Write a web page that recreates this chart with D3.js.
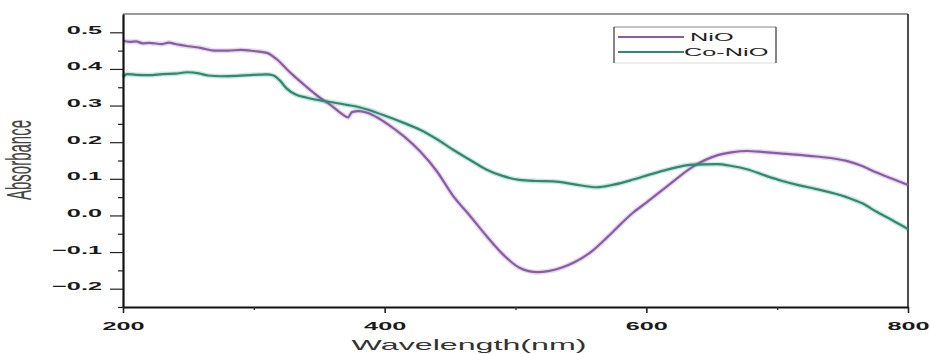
<!DOCTYPE html>
<html>
<head>
<meta charset="utf-8">
<script src="https://cdn.jsdelivr.net/npm/d3@7"></script>
<style>
  html, body { margin: 0; padding: 0; background: #ffffff; }
  svg { display: block; }
  text { font-family: "Liberation Sans", Arial, sans-serif; }
</style>
</head>
<body>
<svg id="chart" width="930" height="354"></svg>
<script>
// ---- data ----
const seriesNames = ["NiO", "Co-NiO"];

const nioWavelength = [200,205,210,215,220,230,235,240,250,260,270,280,290,300,310,318,325,330,340,350,360,367,372,375,380,386,395,402,415,427,440,452,465,478,490,503,510,517,525,535,545,559,570,580,590,600,616,636,654,665,677,690,704,730,753,765,776,788,800];
const nioAbsorbance = [0.477,0.474,0.475,0.470,0.471,0.468,0.472,0.468,0.462,0.457,0.450,0.450,0.452,0.449,0.444,0.425,0.400,0.383,0.352,0.323,0.298,0.278,0.268,0.282,0.285,0.281,0.266,0.250,0.215,0.175,0.120,0.055,0.000,-0.057,-0.105,-0.143,-0.152,-0.155,-0.152,-0.143,-0.128,-0.096,-0.060,-0.025,0.008,0.035,0.080,0.134,0.164,0.172,0.176,0.173,0.169,0.161,0.149,0.135,0.117,0.100,0.083];

const coWavelength = [200,203,210,220,230,240,249,258,265,275,287,300,310,315,320,325,332,340,351,360,371,380,386,402,415,427,440,452,465,478,490,503,515,529,545,562,575,590,603,616,636,654,665,677,690,704,717,730,753,765,776,788,800];
const coAbsorbance = [0.378,0.386,0.384,0.383,0.386,0.387,0.391,0.388,0.382,0.380,0.381,0.384,0.385,0.382,0.368,0.347,0.330,0.322,0.314,0.309,0.302,0.296,0.290,0.270,0.252,0.234,0.208,0.180,0.152,0.125,0.108,0.097,0.094,0.093,0.085,0.077,0.084,0.098,0.112,0.125,0.139,0.140,0.135,0.126,0.110,0.094,0.082,0.072,0.050,0.033,0.010,-0.013,-0.037];

const xMajorTicks = [200, 400, 600, 800];
const xMinorTicks = [300, 500, 700];
const yMajorTicks = [-0.2, -0.1, 0.0, 0.1, 0.2, 0.3, 0.4, 0.5];
const yMinorTicks = [-0.25, -0.15, -0.05, 0.05, 0.15, 0.25, 0.35, 0.45];

const xTitle = "Wavelength(nm)";
const yTitle = "Absorbance";

// ---- layout ----
const colors = ["#8a5ba6", "#2b8a6f"];
const plotLeft = 123, plotRight = 908, plotTop = 14, plotBottom = 307;
const stretch = 2.3; // horizontal stretch of the text in the reference

const svg = d3.select("#chart");
const x = d3.scaleLinear().domain([200, 800]).range([plotLeft, plotRight]);
const y = d3.scaleLinear().domain([-0.25, 0.55]).range([plotBottom, plotTop]);

// frame top / right
svg.append("line").attr("x1", plotLeft).attr("x2", plotRight).attr("y1", plotTop).attr("y2", plotTop)
  .attr("stroke", "#7a7a7a").attr("stroke-width", 1.6);
svg.append("line").attr("x1", plotRight).attr("x2", plotRight).attr("y1", plotTop).attr("y2", plotBottom)
  .attr("stroke", "#222").attr("stroke-width", 1.6);

// curves
const series = [
  { name: seriesNames[0], wl: nioWavelength, ab: nioAbsorbance, color: colors[0] },
  { name: seriesNames[1], wl: coWavelength, ab: coAbsorbance, color: colors[1] }
];
const line = d3.line().curve(d3.curveMonotoneX);
series.forEach(s => {
  const pts = s.wl.map((w, i) => [x(w), y(s.ab[i])]);
  svg.append("path").attr("d", line(pts)).attr("fill", "none")
    .attr("stroke", s.color).attr("stroke-opacity", 0.22).attr("stroke-width", 5);
  svg.append("path").attr("d", line(pts)).attr("fill", "none")
    .attr("stroke", s.color).attr("stroke-width", 2.2);
});

// y axis (major)
const yAxisG = svg.append("g").attr("transform", `translate(${plotLeft},0)`)
  .call(d3.axisLeft(y).tickValues(yMajorTicks).tickFormat(d3.format(".1f")).tickSizeInner(13).tickSizeOuter(0));
yAxisG.select(".domain").attr("stroke", "#111").attr("stroke-width", 2.2);
yAxisG.selectAll(".tick line").attr("stroke", "#222").attr("stroke-width", 1.2);
yAxisG.selectAll(".tick text")
  .attr("x", 0).attr("dy", null)
  .attr("text-anchor", "end")
  .attr("transform", `translate(-21,1) scale(${stretch},1)`)
  .attr("font-size", 11).attr("font-weight", "bold").attr("fill", "#1a1a1a");
// y axis (minor)
const yMinorG = svg.append("g").attr("transform", `translate(${plotLeft},0)`)
  .call(d3.axisLeft(y).tickValues(yMinorTicks).tickFormat("").tickSizeInner(5).tickSizeOuter(0));
yMinorG.select(".domain").remove();
yMinorG.selectAll(".tick line").attr("stroke", "#222").attr("stroke-width", 1.2);

// x axis (major)
const xAxisG = svg.append("g").attr("transform", `translate(0,${plotBottom})`)
  .call(d3.axisBottom(x).tickValues(xMajorTicks).tickFormat(d3.format("d")).tickSizeInner(6).tickSizeOuter(0));
xAxisG.select(".domain").attr("stroke", "#111").attr("stroke-width", 2.2);
xAxisG.selectAll(".tick line").attr("stroke", "#222").attr("stroke-width", 1.6);
xAxisG.selectAll(".tick text")
  .attr("y", 0).attr("dy", null)
  .attr("text-anchor", "middle")
  .attr("transform", `translate(0,23) scale(${stretch},1)`)
  .attr("font-size", 11).attr("font-weight", "bold").attr("fill", "#1a1a1a");
// x axis (minor)
const xMinorG = svg.append("g").attr("transform", `translate(0,${plotBottom})`)
  .call(d3.axisBottom(x).tickValues(xMinorTicks).tickFormat("").tickSizeInner(3).tickSizeOuter(0));
xMinorG.select(".domain").remove();
xMinorG.selectAll(".tick line").attr("stroke", "#333").attr("stroke-width", 1.4);

// titles
svg.append("text").text(xTitle)
  .attr("text-anchor", "middle")
  .attr("transform", `translate(469,350) scale(${stretch},1)`)
  .attr("font-size", 14).attr("fill", "#333");
svg.append("text").text(yTitle)
  .attr("text-anchor", "middle")
  .attr("transform", `translate(31,160) scale(${stretch},1) rotate(-90)`)
  .attr("font-size", 15).attr("fill", "#444");

// legend
const lg = svg.append("g");
const lx0 = 614, lx1 = 776, ly0 = 27, ly1 = 63;
lg.append("rect").attr("x", lx0).attr("y", ly0).attr("width", lx1 - lx0).attr("height", ly1 - ly0)
  .attr("fill", "#ffffff").attr("stroke", "none");
lg.append("line").attr("x1", lx0).attr("x2", lx1).attr("y1", ly0).attr("y2", ly0).attr("stroke", "#888").attr("stroke-width", 1.2);
lg.append("line").attr("x1", lx0).attr("x2", lx1).attr("y1", ly1).attr("y2", ly1).attr("stroke", "#ddd").attr("stroke-width", 1);
lg.append("line").attr("x1", lx0).attr("x2", lx0).attr("y1", ly0).attr("y2", ly1).attr("stroke", "#333").attr("stroke-width", 1.2);
lg.append("line").attr("x1", lx1).attr("x2", lx1).attr("y1", ly0).attr("y2", ly1).attr("stroke", "#333").attr("stroke-width", 1.2);
const legendRows = [
  { y: 37, tx: 690 },
  { y: 52, tx: 684 }
];
series.forEach((s, i) => {
  const r = legendRows[i];
  lg.append("line").attr("x1", lx0 + 4).attr("x2", 684).attr("y1", r.y).attr("y2", r.y)
    .attr("stroke", s.color).attr("stroke-width", 2);
  lg.append("text").text(s.name)
    .attr("transform", `translate(${r.tx},${r.y + 4}) scale(${stretch},1)`)
    .attr("font-size", 11).attr("fill", "#222");
});
</script>
</body>
</html>
